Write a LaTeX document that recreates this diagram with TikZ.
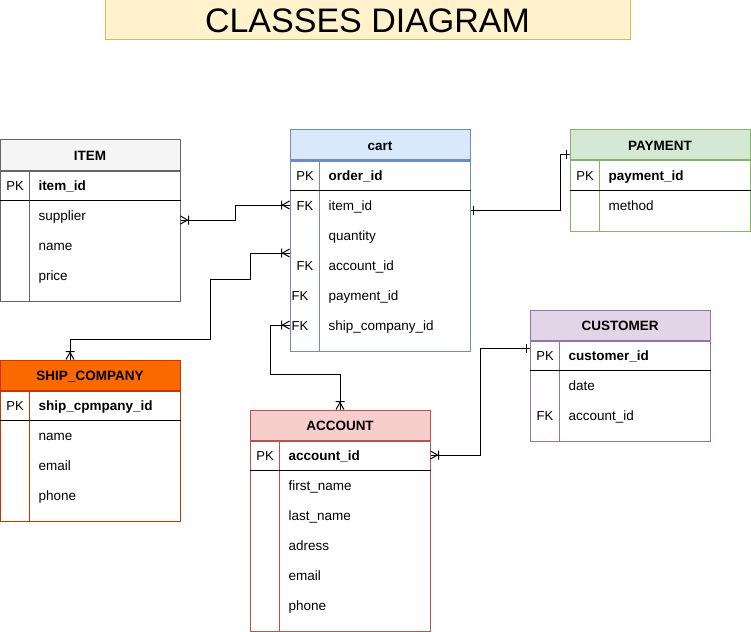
\documentclass[tikz,border=0pt]{standalone}
\usepackage{fontspec}
\setmainfont{Liberation Sans}
\definecolor{titleline}{HTML}{D6B656}
\definecolor{titlefill}{HTML}{FFF2CC}
\definecolor{itemline}{HTML}{666666}
\definecolor{itemfill}{HTML}{F5F5F5}
\definecolor{cartline}{HTML}{6C8EBF}
\definecolor{cartfill}{HTML}{DAE8FC}
\definecolor{payline}{HTML}{82B366}
\definecolor{payfill}{HTML}{D5E8D4}
\definecolor{custline}{HTML}{9673A6}
\definecolor{custfill}{HTML}{E1D5E7}
\definecolor{shipline}{HTML}{C73500}
\definecolor{shipfill}{HTML}{FA6800}
\definecolor{accline}{HTML}{B85450}
\definecolor{accfill}{HTML}{F8CECC}
\usepackage{tikz}
\usetikzlibrary{arrows.meta, calc}

% crow's foot (one or many) and single bar (one)
\pgfdeclarearrow{
  name=Crow,
  setup code={
    \pgfarrowssettipend{0pt}
    \pgfarrowssetlineend{0pt}
    \pgfarrowssetbackend{-8pt}
    \pgfarrowssetvisualbackend{-8pt}
  },
  drawing code={
    \pgfsetdash{}{0pt}
    \pgfpathmoveto{\pgfqpoint{0pt}{4pt}}
    \pgfpathlineto{\pgfqpoint{-7pt}{0pt}}
    \pgfpathlineto{\pgfqpoint{0pt}{-4pt}}
    \pgfpathmoveto{\pgfqpoint{-8pt}{4.5pt}}
    \pgfpathlineto{\pgfqpoint{-8pt}{-4.5pt}}
    \pgfusepathqstroke
  }
}
\pgfdeclarearrow{
  name=One,
  setup code={
    \pgfarrowssettipend{0pt}
    \pgfarrowssetlineend{0pt}
    \pgfarrowssetbackend{-3pt}
    \pgfarrowssetvisualbackend{-3pt}
  },
  drawing code={
    \pgfsetdash{}{0pt}
    \pgfpathmoveto{\pgfqpoint{-3pt}{4.5pt}}
    \pgfpathlineto{\pgfqpoint{-3pt}{-4.5pt}}
    \pgfusepathqstroke
  }
}

\tikzset{
    titlebox/.style={rectangle, draw=titleline, fill=titlefill, minimum width=525pt,
                     minimum height=40pt, inner sep=0pt, text height=25pt, text depth=0pt,
                     font=\fontsize{34}{38}\selectfont},
    headbox/.style={rectangle, minimum width=180pt, minimum height=30pt, inner sep=0pt,
                    text height=10.5pt, text depth=0pt, font=\bfseries\fontsize{13.5}{16}\selectfont},
    itembox/.style={headbox, draw=itemline, fill=itemfill},
    cartbox/.style={headbox, draw=cartline, fill=cartfill},
    paybox/.style={headbox, draw=payline, fill=payfill},
    custbox/.style={headbox, draw=custline, fill=custfill},
    shipbox/.style={headbox, draw=shipline, fill=shipfill},
    accbox/.style={headbox, draw=accline, fill=accfill},
    bodybox/.style={rectangle, fill=white, minimum width=180pt, inner sep=0pt, anchor=north},
    keytext/.style={inner sep=0pt, text height=10.5pt, text depth=0pt, font=\fontsize{13}{15}\selectfont},
    fieldtext/.style={anchor=west, inner sep=0pt, text height=10.5pt, text depth=0pt, font=\fontsize{13.5}{16}\selectfont},
    pktext/.style={fieldtext, font=\bfseries\fontsize{13.5}{16}\selectfont},
    relline/.style={line width=1pt, black},
}

\begin{document}
\begin{tikzpicture}[x=1pt, y=-1pt, line width=1pt]
    \useasboundingbox (0,0) rectangle (751,631);
    \node[titlebox] (title) at (367.5,20) {CLASSES DIAGRAM};

    % ITEM
    \node[itembox] (item) at (90,155) {ITEM};
    \node[bodybox, draw=itemline, minimum height=130pt] (item-body) at (item.south) {};
    \draw[itemline] ([xshift=30pt]item-body.north west) -- ([xshift=30pt]item-body.south west);
    \draw ([yshift=-30pt]item-body.north west) -- ([yshift=-30pt]item-body.north east);
    \node[keytext] (item-pk) at (15,185) {PK};
    \node[pktext] (item-id) at (38,185) {item\_id};
    \node[fieldtext] (item-supplier) at (38,215) {supplier};
    \node[fieldtext] (item-name) at (38,245) {name};
    \node[fieldtext] (item-price) at (38,275) {price};

    % cart
    \node[cartbox] (cart) at (380,145) {cart};
    \node[bodybox, draw=cartline, minimum height=190pt] (cart-body) at (cart.south) {};
    \draw[cartline] ([xshift=30pt]cart-body.north west) -- ([xshift=30pt]cart-body.south west);
    \draw ([yshift=-30pt]cart-body.north west) -- ([yshift=-30pt]cart-body.north east);
    \node[keytext] (cart-pk) at (305,175) {PK};
    \node[pktext] (cart-orderid) at (328,175) {order\_id};
    \node[keytext] (cart-fk1) at (305,205) {FK};
    \node[fieldtext] (cart-itemid) at (328,205) {item\_id};
    \node[fieldtext] (cart-quantity) at (328,235) {quantity};
    \node[keytext] (cart-fk2) at (305,265) {FK};
    \node[fieldtext] (cart-accid) at (328,265) {account\_id};
    \node[keytext] (cart-fk3) at (300,295) {FK};
    \node[fieldtext] (cart-payid) at (328,295) {payment\_id};
    \node[keytext] (cart-fk4) at (300,325) {FK};
    \node[fieldtext] (cart-shipid) at (328,325) {ship\_company\_id};

    % PAYMENT
    \node[paybox] (pay) at (660,145) {PAYMENT};
    \node[bodybox, draw=payline, minimum height=70pt] (pay-body) at (pay.south) {};
    \draw[payline] ([xshift=30pt]pay-body.north west) -- ([xshift=30pt]pay-body.south west);
    \draw ([yshift=-30pt]pay-body.north west) -- ([yshift=-30pt]pay-body.north east);
    \node[keytext] (pay-pk) at (585,175) {PK};
    \node[pktext] (pay-id) at (608,175) {payment\_id};
    \node[fieldtext] (pay-method) at (608,205) {method};

    % CUSTOMER
    \node[custbox] (cust) at (620,325) {CUSTOMER};
    \node[bodybox, draw=custline, minimum height=100pt] (cust-body) at (cust.south) {};
    \draw[custline] ([xshift=30pt]cust-body.north west) -- ([xshift=30pt]cust-body.south west);
    \draw ([yshift=-30pt]cust-body.north west) -- ([yshift=-30pt]cust-body.north east);
    \node[keytext] (cust-pk) at (545,355) {PK};
    \node[pktext] (cust-id) at (568,355) {customer\_id};
    \node[fieldtext] (cust-date) at (568,385) {date};
    \node[keytext] (cust-fk) at (545,415) {FK};
    \node[fieldtext] (cust-accid) at (568,415) {account\_id};

    % SHIP_COMPANY
    \node[shipbox] (ship) at (90,375) {SHIP\_COMPANY};
    \node[bodybox, draw=shipline, minimum height=130pt] (ship-body) at (ship.south) {};
    \draw[shipline] ([xshift=30pt]ship-body.north west) -- ([xshift=30pt]ship-body.south west);
    \draw ([yshift=-30pt]ship-body.north west) -- ([yshift=-30pt]ship-body.north east);
    \node[keytext] (ship-pk) at (15,405) {PK};
    \node[pktext] (ship-id) at (38,405) {ship\_cpmpany\_id};
    \node[fieldtext] (ship-name) at (38,435) {name};
    \node[fieldtext] (ship-email) at (38,465) {email};
    \node[fieldtext] (ship-phone) at (38,495) {phone};

    % ACCOUNT
    \node[accbox] (acc) at (340,425) {ACCOUNT};
    \node[bodybox, draw=accline, minimum height=190pt] (acc-body) at (acc.south) {};
    \draw[accline] ([xshift=30pt]acc-body.north west) -- ([xshift=30pt]acc-body.south west);
    \draw ([yshift=-30pt]acc-body.north west) -- ([yshift=-30pt]acc-body.north east);
    \node[keytext] (acc-pk) at (265,455) {PK};
    \node[pktext] (acc-id) at (288,455) {account\_id};
    \node[fieldtext] (acc-first) at (288,485) {first\_name};
    \node[fieldtext] (acc-last) at (288,515) {last\_name};
    \node[fieldtext] (acc-adress) at (288,545) {adress};
    \node[fieldtext] (acc-email) at (288,575) {email};
    \node[fieldtext] (acc-phone) at (288,605) {phone};

    % relations
    \draw[relline, Crow-Crow] ($(item-supplier -| item-body.east)+(0,5)$) -- ++(55,0) |- (cart-itemid -| cart-body.west);
    \draw[relline, Crow-Crow] ($(ship.north)+(-20,0)$) -- ++(0,-20) -- ++(140,0) -- ++(0,-60) -- ++(40,0) |- ($(cart-body.west)+(0,-3)$);
    \draw[relline, Crow-Crow] (acc.north) -- ++(0,-35) -- ++(-70,0) |- (cart-shipid -| cart-body.west);
    \draw[relline, One-One] ($(cart-itemid -| cart-body.east)+(0,5)$) -- ++(90,0) |- ($(pay.west)+(0,10)$);
    \draw[relline, Crow-One] (acc-id -| acc-body.east) -- ++(50,0) |- ($(cust-id -| cust-body.west)+(0,-7)$);
\end{tikzpicture}
\end{document}
